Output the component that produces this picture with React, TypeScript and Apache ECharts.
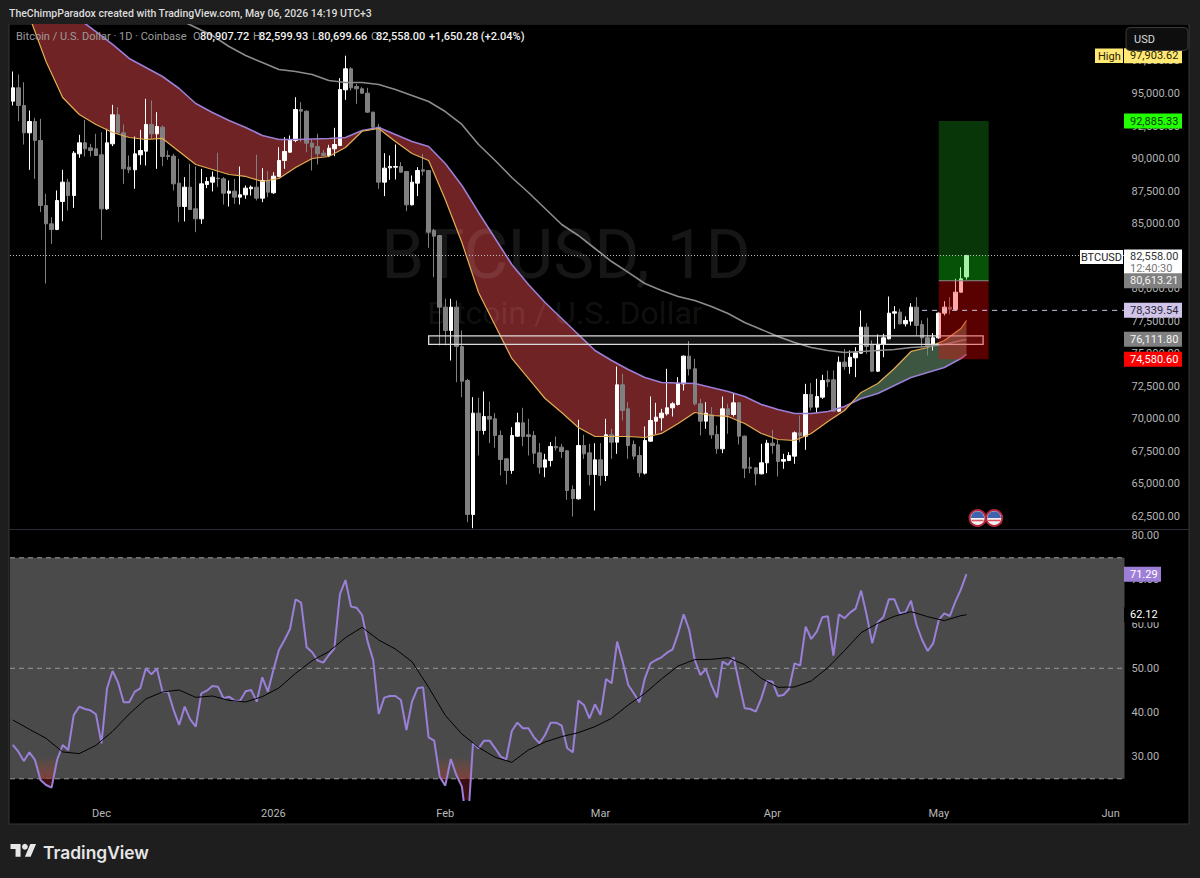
import React, { useEffect, useRef } from "react";
import * as echarts from "echarts";

const opens = [
  94411,95435,94078,91978,92849,91389,86395,84986,84551,86702,
  88188,87163,90364,91210,90825,90749,90288,86139,91133,93361,
  91978,89340,89135,90288,90569,92618,91901,92413,90236,90185,
  88111,86318,87803,86139,85370,88008,88188,88495,88444,87342,
  87496,87035,87214,87675,87803,86958,88316,87368,88623,89852,
  90493,91389,93771,93642,91184,90928,90416,90236,90749,91005,
  95281,96895,95538,95358,95025,93566,92413,88188,89289,89340,
  89391,89007,86446,88111,89135,89084,84474,84090,78584,76791,
  78584,75562,72949,62654,70440,69108,70183,70004,68724,66931,
  66035,68672,69697,68775,68724,67392,66291,66803,67879,67827,
  67546,64575,63858,67955,67392,65727,66854,65650,68775,68211,
  72616,70772,68032,67187,65830,68288,69825,70081,70388,70849,
  71105,72693,74819,73846,71157,69825,70312,68800,67699,70772,
  70337,71233,68672,66291,66240,65778,66624,68135,68007,66752,
  66803,67136,68929,68672,71874,70900,71669,73001,73001,70594,
  74358,74025,74691,75050,77047,75716,73667,75716,76151,78123,
  78200,77304,77508,78584,77252,76228,75639,76228,78123,78584,
  78405,79736,80907.72,
];
const closes = [
  95435,94078,91978,92849,91389,86395,84986,84551,86779,88188,
  87163,90416,91210,90749,90620,90236,86139,91210,93361,91978,
  89212,89135,90364,90620,92618,91901,92464,90160,90160,88059,
  86318,87803,86088,85370,88059,88239,88572,88444,87342,87496,
  87035,87214,87727,87803,86958,88316,87419,88649,89852,90544,
  91440,93771,93642,91184,90877,90364,90236,90800,91081,95307,
  96895,95435,95358,95025,93566,92413,88188,89263,89391,89391,
  88956,86446,88188,89084,89033,84346,84039,78584,76791,78584,
  75562,72898,62654,70440,69108,70183,69979,68724,66880,66035,
  68724,69697,68647,68647,67366,66291,66854,67879,67776,67494,
  64498,63883,67955,67315,65727,66854,65650,68775,68211,72616,
  70644,67955,67136,65855,68340,69876,70132,70440,70849,71157,
  72744,74819,73846,71157,69825,70440,68775,67699,70772,70312,
  71233,68672,66214,66214,65778,66624,68135,67955,66726,66880,
  67187,68929,68724,71874,70900,71720,72950,72847,70594,74358,
  74025,74742,75075,77047,75562,73667,75716,76228,78123,78225,
  77304,77560,78584,77175,76228,75639,76228,78123,78584,78430,
  79736,80761,82558,
];
const highs = [
  96690,96460,95871,93694,93130,93053,87291,85498,87547,89135,
  88444,90569,91824,92977,91133,91901,92029,92285,94129,93950,
  92618,90236,91696,92208,94590,94462,93566,92540,90620,90364,
  89980,88572,89596,89391,89212,88572,89007,90441,88572,88316,
  88444,89391,87931,87931,90288,89263,89033,88956,90877,91645,
  91773,94718,94334,93700,91517,91901,90672,91056,92362,96178,
  97903,97023,95743,95486,95435,93600,92669,90416,90236,91081,
  89724,89050,88700,89340,90364,89130,84602,84150,79224,79224,
  79096,76791,73077,71669,71618,72104,71336,70440,69108,66980,
  69364,70465,70849,70004,69057,68135,67315,68212,68647,68083,
  67600,64882,69927,68775,68083,68135,68135,70004,69236,74025,
  73462,71285,68340,67879,69415,71720,71233,70772,73846,71285,
  73205,74870,75971,74614,71541,71285,70900,69492,71720,71157,
  71925,71285,68724,67059,66291,68083,68391,69159,68391,67315,
  67443,69031,70260,72693,72744,73077,73385,73718,73718,74794,
  75383,75255,75511,78328,77355,76023,76484,76535,79403,78661,
  78456,77867,78891,79352,77560,77764,76586,78180,79045,79352,
  80761,81657,82599.93,
];
const lows = [
  94078,92874,91081,89135,88444,85883,80402,83450,84500,85191,
  86011,86216,90057,90160,90160,90200,83757,86062,90953,91901,
  88059,88879,87675,89519,89468,91517,89212,89417,89903,87547,
  85114,85166,86062,84346,84986,87727,87470,87803,86472,86318,
  86523,86472,86907,87163,86779,86651,87035,87291,88572,89212,
  90440,91261,91261,90493,89084,89545,90200,90108,90185,90950,
  94513,95230,94206,94974,93500,92285,87675,87112,88367,88392,
  88900,85959,86395,87112,88700,83142,80889,75638,75638,74486,
  72821,71669,62065,61600,67187,68800,68135,67776,65650,64959,
  65778,68620,67904,67187,66547,65778,65522,66342,67571,66999,
  63781,62500,63800,66931,64882,62961,64882,65215,66931,67315,
  69876,66931,66880,65522,65727,68240,68852,69108,70260,70183,
  71029,72181,73333,71029,68724,69236,68468,67315,67366,68852,
  70183,68032,65445,65830,64882,65730,65830,67315,65573,66163,
  66752,66547,68211,67622,70644,70440,71541,72438,70540,70517,
  73769,73462,73206,74999,74999,73600,73600,74742,76100,76919,
  77252,77099,77175,76407,75562,74870,75255,76151,77944,78020,
  78350,79700,80699.66,
];

// Moving averages, read at every third session (position in the session list)
const maSessions = [
  0,3,6,9,12,15,18,21,24,27,30,33,36,39,42,45,48,51,54,57,60,63,66,69,72,75,78,81,84,87,
  90,93,96,99,102,105,108,111,114,117,120,123,126,129,132,135,138,141,144,147,150,153,156,
  159,162,165,168,171,172,
];
const slowMa = [
  104450,103300,102300,101530,100690,99760,98765,97690,96995,96305,
  95385,94230,93540,92925,92390,91770,91465,91465,91505,91545,
  91620,92155,92390,91850,91310,90930,89620,87930,85860,83860,
  81860,80325,78940,77715,76485,75255,74485,73795,73180,72795,
  72755,72720,72410,72105,71720,71105,70720,70415,70415,70570,
  70950,71565,71950,72565,73180,73565,73950,74640,74950,
];
const fastMa = [
  104065,100915,97460,94690,93385,92620,92005,91620,91465,91545,
  90545,89545,89160,88775,88625,88240,88470,89315,90005,90160,
  90850,92100,92310,91310,90390,89850,86855,83550,79710,77175,
  74640,73105,71565,70490,69340,68645,68645,68645,68570,68880,
  69645,70490,70260,70185,69645,68880,68415,68340,68880,69800,
  70645,72030,72720,73870,75180,75485,76020,76945,77560,
];
const longMaSessions = maSessions.slice(9);
const longMa = [
  101375,100685,100070,99455,98610,97920,97380,96845,96690,96460,
  96000,95845,95845,95690,95305,94845,94385,93615,92620,91080,
  89850,88545,87395,86165,84935,84090,83090,82090,81250,80400,
  79865,79405,79100,78635,78100,77405,76870,76330,75870,75485,
  75255,75100,75180,75255,75330,75485,75560,75715,76020,76100,
];

const rsi = [
  32.65,31.14,29.03,30.99,29.26,24.73,23.6,23.0,29.26,32.65,
  31.52,39.44,41.32,40.79,40.49,39.59,33.03,45.47,49.39,46.75,
  42.3,42.3,44.72,45.47,50.0,48.64,49.92,44.72,44.72,40.57,
  37.18,41.32,38.46,36.8,44.34,44.94,46.0,45.85,43.21,43.58,
  42.68,42.68,44.79,45.09,42.45,47.96,44.72,49.62,54.14,56.4,
  58.89,65.6,64.85,54.75,53.62,51.73,51.28,53.01,54.52,66.74,
  69.98,63.95,63.72,62.06,56.03,51.88,39.66,43.36,43.74,43.74,
  42.83,36.04,42.45,45.47,45.7,34.38,33.63,25.48,23.45,29.48,
  25.86,23.22,13.05,33.03,31.9,33.63,33.63,31.9,30.01,29.41,
  35.82,37.7,36.42,36.42,34.38,33.03,34.91,37.7,37.7,37.02,
  31.9,30.99,42.68,41.7,38.68,41.85,39.44,47.58,46.6,56.03,
  51.5,46.22,44.34,42.3,47.73,51.13,51.88,52.48,53.54,54.29,
  57.91,62.21,58.67,51.88,48.49,49.84,46.22,43.36,51.5,50.75,
  52.48,46.6,40.95,40.79,40.19,43.21,47.2,46.98,43.74,43.96,
  45.32,51.13,50.6,59.42,56.63,58.29,61.53,61.76,52.86,62.21,
  61.31,62.59,63.49,67.57,62.06,55.65,60.4,61.53,65.6,65.6,
  62.44,62.66,65.3,59.8,56.4,53.92,55.65,60.93,62.44,61.83,
  65.08,67.87,71.29,
];
const rsiMa = [
  38.31,36.19,34.16,31.07,30.69,32.57,35.74,39.66,43.06,44.64,
  45.09,43.43,43.73,42.75,42.38,43.58,45.55,48.86,51.73,53.77,
  56.93,59.27,56.4,54.37,51.5,45.7,39.36,35.14,32.12,29.86,
  28.73,31.52,33.33,34.54,35.44,36.8,38.68,41.7,44.34,47.58,
  50.52,51.96,52.03,52.41,50.82,47.73,45.7,45.77,47.13,50.15,
  53.99,58.06,60.17,61.76,62.81,61.68,60.78,61.91,62.12,
];

const priceTicks = [62500,65000,67500,70000,72500,75000,77500,80000,82500,85000,87500,90000,92500,95000,97500];
const rsiTicks = [30,40,50,60,70,80];
const rsiLevels = [75,50,25];
const monthLabels: Record<string,string> = {
  "2025-12-01":"Dec","2026-01-01":"2026","2026-02-01":"Feb","2026-03-01":"Mar",
  "2026-04-01":"Apr","2026-05-01":"May","2026-06-01":"Jun",
};
const firstDay = Date.UTC(2025,10,15);
const sessionCount = 201;
const categories = Array.from({length:sessionCount},(_,i)=>new Date(firstDay+i*86400000).toISOString().slice(0,10));

const target = 92885.33, entry = 80613.21, stop = 74580.6, last = 82558, pivot = 78339.54, long200 = 76111.8, high = 97903.62;
const positionFrom = 167, positionTo = 176;
const zoneTop = 76380, zoneBottom = 75720, zoneFrom = 75, zoneTo = 175;
const pivotFrom = 164;
const dips = [[4,9],[76,84]];

const UI = "Roboto, sans-serif";
const money = (v:number)=>v.toLocaleString("en-US",{minimumFractionDigits:2,maximumFractionDigits:2});

const ribbonRuns = (()=>{
  const runs:{a:number,b:number,up:boolean}[]=[];
  maSessions.forEach((_,k)=>{
    const up = fastMa[k]>slowMa[k];
    const r = runs[runs.length-1];
    if(r && r.up===up) r.b=k; else runs.push({a:k,b:k,up});
  });
  return runs;
})();

function buildOption():any{
  const renderRibbon = (params:any,api:any)=>{
    const run = ribbonRuns[params.dataIndex];
    const top:number[][]=[], bottom:number[][]=[];
    const F=(k:number)=>api.coord([maSessions[k],fastMa[k]]);
    const S=(k:number)=>api.coord([maSessions[k],slowMa[k]]);
    const cross=(k:number)=>{
      const f0=F(k),s0=S(k),f1=F(k+1),s1=S(k+1);
      const d0=f0[1]-s0[1],d1=f1[1]-s1[1],t=d0/(d0-d1);
      return [f0[0]+(f1[0]-f0[0])*t,f0[1]+(f1[1]-f0[1])*t];
    };
    for(let k=run.a;k<=run.b;k++){top.push(F(k));bottom.push(S(k));}
    const pts:number[][]=[];
    if(run.a>0)pts.push(cross(run.a-1));
    pts.push(...top);
    if(run.b<maSessions.length-1)pts.push(cross(run.b));
    pts.push(...bottom.reverse());
    return {type:"polygon",shape:{points:pts},style:{fill:run.up?"#3c5642":"#702324"}};
  };
  const renderPosition=(params:any,api:any)=>{
    const g=params.coordSys;
    const L=api.coord([positionFrom,target])[0],R=api.coord([positionTo,target])[0];
    const Y=(v:number)=>api.coord([0,v])[1];
    const zl=api.coord([zoneFrom,0])[0],zr=api.coord([zoneTo,0])[0];
    return {type:"group",children:[
      {type:"rect",shape:{x:zl,y:Y(zoneTop),width:zr-zl,height:Y(zoneBottom)-Y(zoneTop)},
        style:{fill:"rgba(255,255,255,0.07)",stroke:"#dcdcdc",lineWidth:1.3}},
      {type:"rect",shape:{x:L,y:Y(target),width:R-L,height:Y(entry)-Y(target)},style:{fill:"rgba(30,200,30,0.27)"}},
      {type:"rect",shape:{x:L,y:Y(last),width:R-L,height:Y(entry)-Y(last)},style:{fill:"rgba(0,255,0,0.14)"}},
      {type:"rect",shape:{x:L,y:Y(entry),width:R-L,height:Y(stop)-Y(entry)},style:{fill:"rgba(255,0,0,0.35)"}},
      {type:"line",shape:{x1:L,y1:Y(entry),x2:R,y2:Y(entry)},style:{stroke:"#8a8a8a",lineWidth:1}},
      {type:"line",shape:{x1:api.coord([pivotFrom,0])[0],y1:Y(pivot),x2:g.x+g.width,y2:Y(pivot)},
        style:{stroke:"#d1c4e9",lineWidth:1,lineDash:[5,5]}},
    ]};
  };
  const renderLevels=(params:any,api:any)=>{
    const g=params.coordSys;
    const Y=(v:number)=>api.coord([0,v])[1];
    const hi=Math.max(...rsiLevels),lo=Math.min(...rsiLevels);
    return {type:"group",children:[
      {type:"rect",shape:{x:g.x,y:Y(hi),width:g.width,height:Y(lo)-Y(hi)},style:{fill:"#4a4a4a"}},
      ...rsiLevels.map(v=>({type:"line",shape:{x1:g.x,y1:Y(v),x2:g.x+g.width,y2:Y(v)},
        style:{stroke:"#9a9a9a",lineWidth:1,lineDash:[5,4]}})),
    ]};
  };
  const renderDip=(params:any,api:any)=>{
    const [a,b]=dips[params.dataIndex];
    const level=30;
    const yL=api.coord([0,level])[1],yB=api.coord([0,20])[1];
    const pts:number[][]=[];
    for(let i=a;i<=b;i++){
      const p=api.coord([i,rsi[i]]);
      if(i>a){
        const q=api.coord([i-1,rsi[i-1]]);
        if((q[1]-yL)*(p[1]-yL)<0){
          const t=(yL-q[1])/(p[1]-q[1]);
          pts.push([q[0]+(p[0]-q[0])*t,yL]);
        }
      }
      if(p[1]>yL)pts.push(p);
    }
    return {type:"polygon",shape:{points:pts},style:{fill:{type:"linear",x:0,y:yL,x2:0,y2:yB,global:true,colorStops:[
      {offset:0,color:"rgba(170,80,50,0)"},{offset:0.5,color:"rgba(150,60,50,0.65)"},
      {offset:0.5,color:"#3d0d14"},{offset:1,color:"#3d0d14"}]}}};
  };
  const xCommon={type:"category",data:categories,boundaryGap:true,axisLine:{show:false},axisTick:{show:false},splitLine:{show:false}};
  return {
    animation:false,
    backgroundColor:"#1e1e1e",
    grid:[
      {left:10,top:24,width:1114.5,height:505},
      {left:10,top:530,width:1114.5,height:270},
    ],
    xAxis:[
      {...xCommon,gridIndex:0,axisLabel:{show:false}},
      {...xCommon,gridIndex:1,axisLabel:{
        interval:(_:number,v:string)=>!!monthLabels[v],
        formatter:(v:string)=>monthLabels[v]||"",
        color:"#b8b8b8",fontFamily:UI,fontSize:11,margin:8,hideOverlap:false,
      }},
    ],
    yAxis:[
      {type:"value",gridIndex:0,position:"right",min:61539,max:100339,axisLine:{show:false},axisTick:{show:false},splitLine:{show:false},
        axisLabel:{customValues:priceTicks,formatter:money,color:"#b4b4b4",fontFamily:UI,fontSize:11,margin:7}},
      {type:"value",gridIndex:1,position:"right",min:20.2,max:81.29,axisLine:{show:false},axisTick:{show:false},splitLine:{show:false},
        axisLabel:{customValues:rsiTicks,formatter:(v:number)=>v.toFixed(2),color:"#b4b4b4",fontFamily:UI,fontSize:11,margin:7}},
    ],
    series:[
      {type:"custom",name:"Ribbon",xAxisIndex:0,yAxisIndex:0,z:1,clip:true,renderItem:renderRibbon,
        data:ribbonRuns.map((_,i)=>[i,0]),silent:true},
      {type:"candlestick",name:"BTCUSD",xAxisIndex:0,yAxisIndex:0,z:2,barWidth:4,
        data:opens.map((o,i)=>[o,closes[i],lows[i],highs[i]]),
        itemStyle:{color:"#ffffff",color0:"#808080",borderColor:"#ffffff",borderColor0:"#808080",borderWidth:1},
        markLine:{silent:true,symbol:"none",label:{show:false},lineStyle:{color:"#bdbdbd",type:[1,2],width:1},data:[{yAxis:last}]},
      },
      {type:"line",name:"Slow",xAxisIndex:0,yAxisIndex:0,z:3,showSymbol:false,lineStyle:{color:"#9b7fd4",width:1.6},
        data:maSessions.map((s,i)=>[s,slowMa[i]])},
      {type:"line",name:"Fast",xAxisIndex:0,yAxisIndex:0,z:3,showSymbol:false,lineStyle:{color:"#e3ae52",width:1.2},
        data:maSessions.map((s,i)=>[s,fastMa[i]])},
      {type:"line",name:"Long",xAxisIndex:0,yAxisIndex:0,z:3,showSymbol:false,lineStyle:{color:"#8c8c8c",width:1.6},
        data:longMaSessions.map((s,i)=>[s,longMa[i]])},
      {type:"custom",name:"Position",xAxisIndex:0,yAxisIndex:0,z:4,clip:true,renderItem:renderPosition,data:[[0,0]],silent:true},
      {type:"custom",name:"Levels",xAxisIndex:1,yAxisIndex:1,z:0,renderItem:renderLevels,data:[[0,0]],silent:true},
      {type:"custom",name:"Dips",xAxisIndex:1,yAxisIndex:1,z:1,clip:true,renderItem:renderDip,data:dips.map((_,i)=>[i,0]),silent:true},
      {type:"line",name:"RSI",xAxisIndex:1,yAxisIndex:1,z:2,showSymbol:false,lineStyle:{color:"#9a80d8",width:2},data:rsi},
      {type:"line",name:"RSI MA",xAxisIndex:1,yAxisIndex:1,z:3,showSymbol:false,lineStyle:{color:"#000000",width:1},
        data:maSessions.map((s,i)=>[s,rsiMa[i]])},
    ],
  };
}

const txt=(text:string,x:number,y:number,fill:string,size:number,extra:any={},z=100)=>({
  type:"text",z,silent:true,style:{text,x,y,fill,font:`${extra.weight||"normal"} ${size}px ${extra.family||UI}`,
    align:extra.align||"left",verticalAlign:"middle"},
});
const box=(x:number,y:number,w:number,h:number,fill:string,z=99,extra:any={})=>({
  type:"rect",z,silent:true,shape:{x,y,width:w,height:h,r:extra.r||0},style:{fill,stroke:extra.stroke,lineWidth:extra.lw||0},
});

echarts.graphic.registerShape("tvLogo",echarts.graphic.extendPath("M14 22H7V11H0V4h14v18zM28 22h-8l7.5-18h8L28 22z",{}) as any);

function buildGraphics(chart:any){
  const py=(v:number)=>chart.convertToPixel({yAxisIndex:0},v);
  const ry=(v:number)=>chart.convertToPixel({yAxisIndex:1},v);
  const px=(i:number)=>chart.convertToPixel({xAxisIndex:0},i);
  const tx=1124,tw=58;
  const tag=(value:number,fill:string,color:string,w=tw)=>[
    box(tx,py(value)-7.5,w,15,fill),
    txt(money(value),tx+6,py(value),color,11),
  ];
  const flag=(i:number)=>{
    const cx=px(i),cy=518;
    return [
      {type:"circle",z:50,shape:{cx,cy,r:8},style:{fill:"#f2f2f2",stroke:"#b3263a",lineWidth:2}},
      {type:"sector",z:51,shape:{cx,cy,r:6.8,r0:0,startAngle:Math.PI,endAngle:2*Math.PI},style:{fill:"#3f63ad"}},
      {type:"line",z:51,shape:{x1:cx-6,y1:cy+2.5,x2:cx+6,y2:cy+2.5},style:{stroke:"#d9525f",lineWidth:1.5}},
    ];
  };
  const V=(s:string,x:number)=>txt(s,x,36,"#f0f0f0",11,{weight:"500"});
  const K=(s:string,x:number)=>txt(s,x,36,"#9c9c9c",11);
  return [
    box(9,24,1180,800,"#000000",-10),
    {type:"rect",z:-9,silent:true,shape:{x:9,y:24,width:1180,height:800},style:{fill:"none",stroke:"#363636",lineWidth:1}},
    {type:"line",z:-8,silent:true,shape:{x1:9,y1:529.5,x2:1189,y2:529.5},style:{stroke:"#2c2c34",lineWidth:1}},
    txt("BTCUSD, 1D",566,254,"rgba(255,255,255,0.085)",69,{align:"center"},1.5),
    txt("Bitcoin / U.S. Dollar",565,313,"rgba(255,255,255,0.085)",32,{align:"center"},1.5),

    box(0,0,1200,24,"#1e1e1e",90),
    txt("TheChimpParadox created with TradingView.com, May 06, 2026 14:19 UTC+3",9,13,"#dcdcdc",10.5,{weight:"500"}),
    K("Bitcoin / U.S. Dollar · 1D · Coinbase",16),
    K("O",193),V("80,907.72",200),
    K("H",253),V("82,599.93",259),
    K("L",312),V("80,699.66",318),
    K("C",371),V("82,558.00",376),
    V("+1,650.28 (+2.04%)",429),

    ...tag(high,"#ffe873","#2a2600"),
    box(1095,48.5,28,14.5,"#ffe873"),
    txt("High",1098,56,"#2a2600",11),
    box(1126,27.5,62,23,"#0e0e0e",101,{r:4,stroke:"#3a3a3a",lw:1}),
    txt("USD",1134,39,"#dcdcdc",11,{},102),

    ...tag(target,"#22ff00","#0b3a0b"),
    box(1080,250,43,14,"#ffffff"),
    txt("BTCUSD",1101.5,257,"#222222",11,{align:"center"}),
    box(tx,249.5,tw,27.5,"#ffffff"),
    txt(money(last),tx+6,256,"#333333",11),
    txt("12:40:30",tx+6,268,"#777777",11),
    ...tag(entry,"#808080","#f4f4f4"),
    ...tag(pivot,"#d1c4e9","#2a2a38"),
    ...tag(long200,"#808080","#f4f4f4"),
    ...tag(stop,"#ff0000","#ffffff"),

    box(tx,ry(71.29)-7.5,37,15,"#9e7fd8"),
    txt("71.29",tx+6,ry(71.29),"#ffffff",11),
    box(tx,ry(62.12)-7.5,37,15,"#000000"),
    txt("62.12",tx+6,ry(62.12),"#ffffff",11),

    ...flag(174),...flag(177),

    {type:"tvLogo",z:100,silent:true,x:10.5,y:841,scaleX:0.72,scaleY:0.72,style:{fill:"#e6e6e6"}},
    {type:"circle",z:100,silent:true,shape:{cx:10.5+20*0.72,cy:841+8*0.72,r:4*0.72},style:{fill:"#e6e6e6"}},
    txt("TradingView",43,852,"#e6e6e6",17.4,{weight:"600",family:"Inter, sans-serif"}),
  ];
}

export default function App(){
  const ref=useRef<HTMLDivElement>(null);
  useEffect(()=>{
    document.body.style.margin="0";
    const chart=echarts.init(ref.current!,null,{renderer:"svg"});
    chart.setOption(buildOption());
    chart.setOption({graphic:{elements:buildGraphics(chart)}});
    return ()=>chart.dispose();
  },[]);
  return <div ref={ref} style={{width:1200,height:878}}/>;
}
